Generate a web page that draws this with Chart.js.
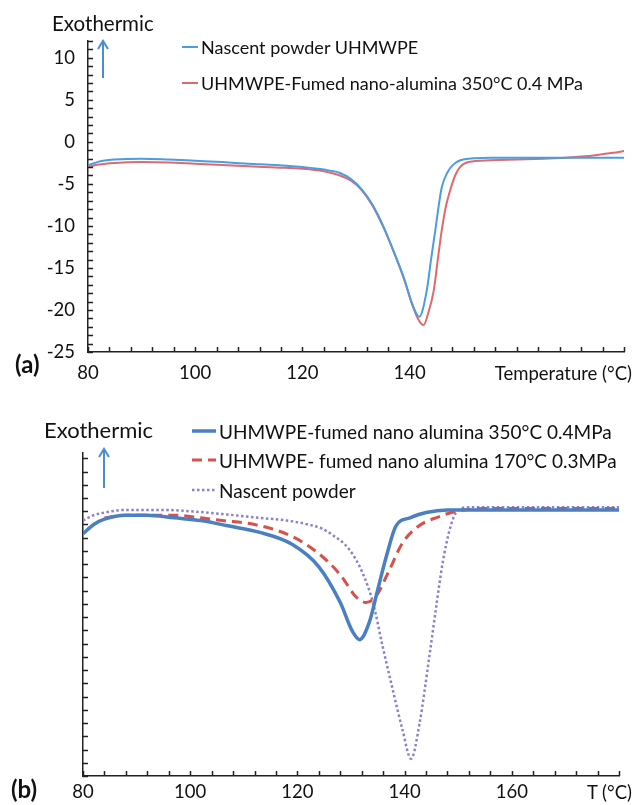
<!DOCTYPE html>
<html>
<head>
<meta charset="utf-8">
<script src="https://cdn.jsdelivr.net/npm/chart.js@4.4.1/dist/chart.umd.min.js"></script>
<style>
    body { margin: 0; background: #fff; font-family: Lato, sans-serif; color: #111; }
    #page { position: relative; width: 634px; height: 805px; overflow: hidden; }
    canvas { position: absolute; left: 0; }
    .txt { position: absolute; white-space: nowrap; line-height: 1; transform: translateY(-50%); }
    .bold { font-weight: bold; }
    svg { position: absolute; left: 0; top: 0; overflow: visible; }
</style>
</head>
<body>
<div id="page">
    <canvas id="chartA" width="634" height="400" style="top:0"></canvas>
    <canvas id="chartB" width="634" height="405" style="top:400px"></canvas>

    <div class="txt" style="left:52px;top:23px;font-size:20.5px">Exothermic</div>
    <div class="txt bold" style="left:15px;top:364px;font-size:24px">(a)</div>
    <div class="txt" style="right:2px;top:373px;font-size:18.5px">Temperature (°C)</div>

    <div class="txt" style="left:44px;top:430px;font-size:22px">Exothermic</div>
    <div class="txt bold" style="left:11px;top:789px;font-size:24px">(b)</div>
    <div class="txt" style="right:2px;top:792px;font-size:18.5px">T (°C)</div>

    <svg width="634" height="805">
        <g stroke="#4a8ed0" stroke-width="2" fill="none">
            <path d="M103 78 L103 41 M98 49 L103 41 L108 49"/>
            <path d="M104 488 L104 449 M99 457 L104 449 L109 457"/>
        </g>
    </svg>
    <div id="legendA"></div>
    <div id="legendB"></div>
</div>

<script>
// (a) DSC curves, heat flow vs temperature
const tempNascentA = [80, 82, 85, 90, 95, 100, 105, 110, 115, 120, 124, 127, 129, 131, 133, 135, 137, 139, 140.5, 141.8, 143.2, 144, 144.8, 145.5, 146, 147, 148, 150, 155, 165, 180];
const nascentA = [-2.8, -2.35, -2.1, -2.0, -2.1, -2.25, -2.4, -2.6, -2.75, -3.0, -3.3, -3.7, -4.4, -5.6, -7.4, -9.9, -13.0, -16.3, -19.3, -20.8, -17.7, -14.0, -10.5, -7.3, -5.4, -3.7, -2.8, -2.1, -1.9, -1.9, -1.9];

const tempAluminaA = [80, 82, 85, 90, 95, 100, 105, 110, 115, 120, 124, 127, 129, 131, 133, 135, 137, 139, 140.5, 141.6, 142.6, 143.5, 144.5, 145.3, 146, 146.8, 147.6, 148.5, 149.4, 151, 155, 160, 165, 169, 172, 175, 178, 180];
const aluminaA = [-3.0, -2.7, -2.5, -2.4, -2.45, -2.6, -2.75, -2.9, -3.05, -3.2, -3.5, -4.0, -4.6, -5.7, -7.5, -10.0, -13.0, -16.4, -19.4, -21.1, -21.8, -20.3, -17.7, -13.8, -10.5, -7.6, -5.7, -4.0, -3.0, -2.4, -2.2, -2.1, -2.0, -1.9, -1.75, -1.55, -1.3, -1.1];

const labelsA = ['Nascent powder UHMWPE', 'UHMWPE-Fumed nano-alumina 350°C 0.4 MPa'];
const yTicksA = [-25, -20, -15, -10, -5, 0, 5, 10];
const xTicks = [80, 100, 120, 140, 160];

// (b) same samples, arbitrary heat flow units
const tempSolidB = [80, 82, 84, 88, 92, 97, 102, 107, 113, 119, 124, 128, 130.3, 131.6, 133.4, 135, 136.6, 138.4, 141, 144, 148, 155, 165, 180];
const solidB = [18.3, 19.0, 19.4, 19.7, 19.7, 19.5, 19.3, 18.9, 18.4, 17.5, 15.8, 13.1, 10.9, 10.3, 11.6, 14.1, 16.6, 18.9, 19.5, 19.9, 20.1, 20.1, 20.1, 20.1];

const tempDashedB = [84, 88, 92, 97, 102, 106, 112, 119, 124, 128, 131, 132.8, 134.7, 137.2, 139.6, 142.7, 146.5, 149.6, 155, 180];
const dashedB = [19.5, 19.7, 19.7, 19.7, 19.5, 19.3, 19.0, 18.1, 16.8, 15.2, 13.5, 13.1, 13.6, 15.6, 17.6, 18.9, 19.6, 20.0, 20.2, 20.2];

const tempDottedB = [80, 82, 84, 88, 95, 100, 107, 113, 118, 122, 124.5, 126.6, 129.7, 132.2, 134.1, 135.9, 137.8, 139.6, 141.2, 142.8, 144.6, 145.9, 147.1, 148.4, 149.6, 152, 165, 180];
const dottedB = [19.3, 19.7, 19.9, 20.1, 20.1, 20.0, 19.75, 19.5, 19.3, 19.0, 18.7, 18.2, 17.1, 15.3, 13.1, 9.8, 6.5, 3.5, 1.3, 4.0, 9.0, 12.8, 16.1, 18.6, 19.9, 20.3, 20.3, 20.3];

const labelsB = ['UHMWPE-fumed nano alumina 350°C 0.4MPa', 'UHMWPE- fumed nano alumina 170°C 0.3MPa', 'Nascent powder'];

const toPoints = (xs, ys) => xs.map((x, i) => ({ x: x, y: ys[i] }));

Chart.defaults.font.family = 'Lato, sans-serif';
Chart.defaults.color = '#111';

// ticks point into the plot area, as in the original figure
const innerTicks = {
    id: 'innerTicks',
    afterDraw: function (chart) {
        const ctx = chart.ctx;
        const xs = chart.scales.x;
        const ys = chart.scales.y;
        ctx.save();
        ctx.strokeStyle = '#222';
        ctx.lineWidth = 1.5;
        ctx.beginPath();
        xs.ticks.forEach(function (t) {
            const px = Math.round(xs.getPixelForValue(t.value)) + 0.5;
            ctx.moveTo(px, xs.top);
            ctx.lineTo(px, xs.top - 5);
        });
        ys.ticks.forEach(function (t) {
            const py = Math.round(ys.getPixelForValue(t.value)) + 0.5;
            ctx.moveTo(ys.right, py);
            ctx.lineTo(ys.right + 5, py);
        });
        ctx.stroke();
        ctx.restore();
    }
};

function baseOptions(o) {
    return {
        responsive: false,
        animation: false,
        devicePixelRatio: 1,
        layout: { padding: { top: o.top, right: o.right, left: 0, bottom: 0 } },
        plugins: { legend: { display: false }, tooltip: { enabled: false } },
        elements: { point: { radius: 0 }, line: { cubicInterpolationMode: 'monotone' } },
        scales: {
            x: {
                type: 'linear', min: 80, max: 180,
                border: { color: '#222', width: 1.5 },
                grid: { display: false, drawTicks: false },
                ticks: {
                    stepSize: 4, autoSkip: false, maxRotation: 0, maxTicksLimit: 100,
                    padding: o.xPad, font: { size: 18.5 }, color: '#111',
                    callback: v => (xTicks.includes(v) && v <= o.lastX) ? v : ''
                },
                afterFit: s => { s.height = o.xHeight; }
            },
            y: {
                min: o.yMin, max: o.yMax,
                border: { color: '#222', width: 1.5 },
                grid: { display: false, drawTicks: false },
                ticks: {
                    display: o.yLabels, stepSize: 1, autoSkip: false, includeBounds: false, maxTicksLimit: 100,
                    padding: 13, font: { size: 18.5 }, color: '#111',
                    callback: v => yTicksA.includes(v) ? v : ''
                },
                afterFit: s => { s.width = o.yWidth; }
            }
        }
    };
}

const datasetsA = [
    { label: labelsA[0], data: toPoints(tempNascentA, nascentA), borderColor: '#4a9de0', borderWidth: 2, borderDash: [] },
    { label: labelsA[1], data: toPoints(tempAluminaA, aluminaA), borderColor: '#e0696d', borderWidth: 2, borderDash: [] }
];

const datasetsB = [
    { label: labelsB[0], data: toPoints(tempSolidB, solidB), borderColor: '#4a7fc1', borderWidth: 3.5, borderDash: [] },
    { label: labelsB[1], data: toPoints(tempDashedB, dashedB), borderColor: '#d8504a', borderWidth: 3, borderDash: [10, 6] },
    { label: labelsB[2], data: toPoints(tempDottedB, dottedB), borderColor: '#8e80cc', borderWidth: 2.5, borderDash: [2.5, 2.5] }
];

new Chart(document.getElementById('chartA'), {
    type: 'line',
    data: { datasets: datasetsA },
    options: baseOptions({ top: 41, right: 10, xHeight: 48, xPad: 10, lastX: 140, yMin: -25, yMax: 12, yLabels: true, yWidth: 88 }),
    plugins: [innerTicks]
});

new Chart(document.getElementById('chartB'), {
    type: 'line',
    data: { datasets: datasetsB },
    options: baseOptions({ top: 53, right: 15, xHeight: 29, xPad: 5, lastX: 160, yMin: 0, yMax: 24.4, yLabels: false, yWidth: 83 }),
    plugins: [innerTicks]
});

// legends as plain text next to a short line sample
function buildLegend(el, datasets, rows, sx, sw, tx, size) {
    let html = '';
    datasets.forEach(function (d, i) {
        const dash = d.borderDash.length ? ' stroke-dasharray="' + d.borderDash.join(' ') + '"' : '';
        html += '<svg width="634" height="805"><line x1="' + sx + '" x2="' + (sx + sw) + '" y1="' + rows[i] +
            '" y2="' + rows[i] + '" stroke="' + d.borderColor + '" stroke-width="' + d.borderWidth + '"' + dash + '/></svg>';
        html += '<div class="txt" style="left:' + tx + 'px;top:' + rows[i] + 'px;font-size:' + size + 'px">' + d.label + '</div>';
    });
    el.innerHTML = html;
}

buildLegend(document.getElementById('legendA'), datasetsA, [47, 83], 182, 16, 201, 18);
buildLegend(document.getElementById('legendB'), datasetsB, [431, 460, 490], 192, 24, 219, 19);
</script>
</body>
</html>
